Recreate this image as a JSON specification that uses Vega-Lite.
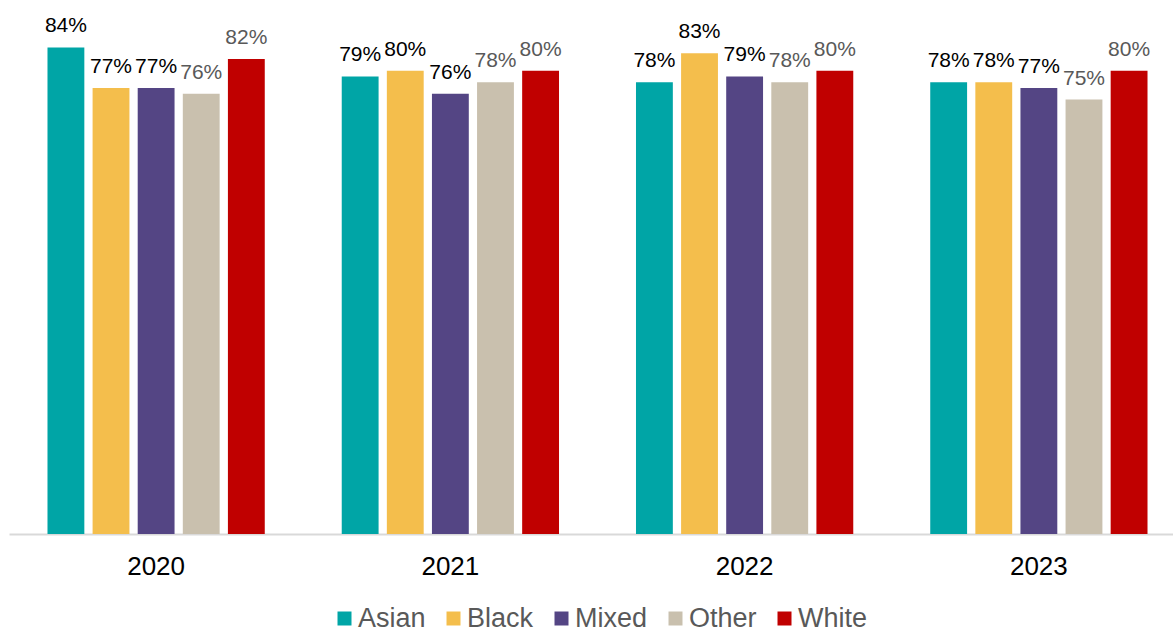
{
  "$schema": "https://vega.github.io/schema/vega-lite/v6.json",
  "width": 1177,
  "height": 534,
  "autosize": {"type": "none"},
  "padding": {"left": 9, "top": 0, "right": 0, "bottom": 93},
  "background": "white",
  "config": {
    "view": {"stroke": null},
    "font": "Liberation Sans"
  },
  "data": {
    "values": [
      {"year": "2020", "group": "Asian", "value": 0.84},
      {"year": "2020", "group": "Black", "value": 0.77},
      {"year": "2020", "group": "Mixed", "value": 0.77},
      {"year": "2020", "group": "Other", "value": 0.76},
      {"year": "2020", "group": "White", "value": 0.82},
      {"year": "2021", "group": "Asian", "value": 0.79},
      {"year": "2021", "group": "Black", "value": 0.80},
      {"year": "2021", "group": "Mixed", "value": 0.76},
      {"year": "2021", "group": "Other", "value": 0.78},
      {"year": "2021", "group": "White", "value": 0.80},
      {"year": "2022", "group": "Asian", "value": 0.78},
      {"year": "2022", "group": "Black", "value": 0.83},
      {"year": "2022", "group": "Mixed", "value": 0.79},
      {"year": "2022", "group": "Other", "value": 0.78},
      {"year": "2022", "group": "White", "value": 0.80},
      {"year": "2023", "group": "Asian", "value": 0.78},
      {"year": "2023", "group": "Black", "value": 0.78},
      {"year": "2023", "group": "Mixed", "value": 0.77},
      {"year": "2023", "group": "Other", "value": 0.75},
      {"year": "2023", "group": "White", "value": 0.80}
    ]
  },
  "encoding": {
    "x": {
      "field": "year",
      "type": "nominal",
      "scale": {"paddingInner": 0.2616, "paddingOuter": 0.1308},
      "axis": {
        "title": null,
        "labelAngle": 0,
        "labelFontSize": 26,
        "labelColor": "#000000",
        "labelPadding": 19,
        "ticks": false,
        "domainColor": "#D9D9D9",
        "domainWidth": 2,
        "grid": false
      }
    },
    "xOffset": {
      "field": "group",
      "type": "nominal",
      "scale": {"paddingInner": 0.183, "paddingOuter": 0}
    },
    "y": {
      "field": "value",
      "type": "quantitative",
      "scale": {"domain": [0, 0.922], "nice": false, "zero": true},
      "axis": null
    }
  },
  "layer": [
    {
      "mark": {"type": "bar"},
      "encoding": {
        "color": {
          "field": "group",
          "type": "nominal",
          "scale": {
            "domain": ["Asian", "Black", "Mixed", "Other", "White"],
            "range": ["#00A5A6", "#F4BE4C", "#544584", "#C9C0AE", "#C00000"]
          },
          "legend": {
            "title": null,
            "orient": "none",
            "direction": "horizontal",
            "legendX": 322,
            "legendY": 605,
            "gridAlign": "none",
            "symbolType": "square",
            "symbolSize": 196,
            "symbolStrokeWidth": 0,
            "labelFontSize": 27,
            "labelColor": "#595959",
            "labelOffset": 0,
            "columnPadding": 14,
            "padding": 0
          }
        }
      }
    },
    {
      "mark": {"type": "text", "baseline": "alphabetic", "dy": -15, "fontSize": 21},
      "encoding": {
        "text": {"field": "value", "type": "quantitative", "format": ".0%"},
        "color": {
          "condition": {"test": "datum.group === 'Other' || datum.group === 'White'", "value": "#595959"},
          "value": "#000000"
        }
      }
    }
  ]
}
